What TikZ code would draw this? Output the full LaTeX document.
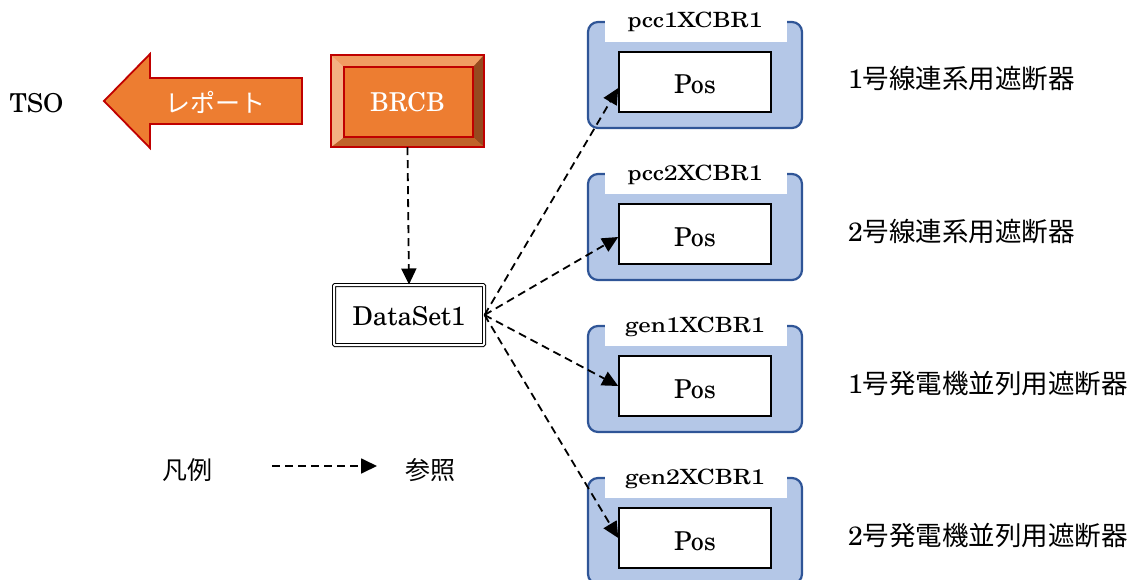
\documentclass[tikz,border=0pt]{standalone}
\usepackage{graphicx}
\usepackage{fontspec}
\setmainfont{texgyreschola-regular.otf}
\newfontfamily\cjk{Noto Sans CJK JP}
\usetikzlibrary{arrows.meta,calc}
\definecolor{orangeF}{HTML}{ED7D31}
\definecolor{darkred}{HTML}{C00000}
\definecolor{bevT}{HTML}{F19C62}
\definecolor{bevL}{HTML}{F4B183}
\definecolor{bevB}{HTML}{C0632A}
\definecolor{bevR}{HTML}{964A1F}
\definecolor{boxblue}{HTML}{B4C7E7}
\definecolor{edgeblue}{HTML}{2F5597}
\begin{document}
\begin{tikzpicture}[x=1pt,y=-1pt,
  lat/.style={font=\fontsize{26}{30}\selectfont, inner sep=0pt},
  labtxt/.style={font=\fontsize{21}{25}\selectfont, inner sep=0pt},
  jp/.style={font=\fontsize{25}{30}\selectfont\cjk, inner sep=0pt},
  desc/.style={font=\fontsize{26.5}{30}\selectfont, inner sep=0pt, anchor=base west},
  ref/.style={draw=black, line width=1.8pt, dash pattern=on 8pt off 5pt,
    -{Triangle[length=16pt,width=15pt]}},
  container/.style={draw=edgeblue, fill=boxblue, line width=2.2pt,
    rounded corners=10pt, minimum width=214pt, minimum height=106pt, inner sep=0pt},
  labbg/.style={fill=white, draw=none, minimum width=182pt, minimum height=30pt, inner sep=0pt},
  posbox/.style={draw=black, fill=white, line width=1.5pt, minimum width=152pt,
    minimum height=60pt, inner sep=0pt, font=\fontsize{26}{30}\selectfont,
    text height=24pt, text depth=0pt},
  dsbox/.style={draw=black, double=white, double distance=2pt, line width=1pt,
    rounded corners=1pt, minimum width=150pt, minimum height=60pt, inner sep=0pt,
    font=\fontsize{26}{30}\selectfont, text height=20pt, text depth=0pt},
  brcbbox/.style={fill=orangeF, draw=none, minimum width=153pt, minimum height=92pt,
    inner sep=0pt, text=white, font=\fontsize{26}{30}\selectfont,
    text height=22pt, text depth=0pt}
]
\useasboundingbox (0,0) rectangle (1134,580);

% TSO
\node[lat, anchor=base] (tso) at (36.5,113) {TSO};

% report arrow
\draw[fill=orangeF, draw=darkred, line width=1.8pt, line join=miter]
  (104,101) -- (150,54) -- (150,78) -- (302,78) -- (302,124) -- (150,124) -- (150,148) -- cycle;
\node[jp, text=white] (rep) at (215,102) {レポート};

% BRCB bevel box
\node[brcbbox] (brcb) at (407.5,101) {BRCB};
\coordinate (inw) at ($(brcb.north west)+(13,12)$);
\coordinate (ine) at ($(brcb.north east)+(-11,12)$);
\coordinate (ise) at ($(brcb.south east)+(-11,-10)$);
\coordinate (isw) at ($(brcb.south west)+(13,-10)$);
\fill[bevT] (brcb.north west) -- (brcb.north east) -- (ine) -- (inw) -- cycle;
\fill[bevR] (brcb.north east) -- (brcb.south east) -- (ise) -- (ine) -- cycle;
\fill[bevB] (brcb.south east) -- (brcb.south west) -- (isw) -- (ise) -- cycle;
\fill[bevL] (brcb.south west) -- (brcb.north west) -- (inw) -- (isw) -- cycle;
\draw[darkred, line width=2pt] (brcb.north west) rectangle (brcb.south east);
\draw[darkred, line width=2pt] (inw) rectangle (ise);

% DataSet1
\node[dsbox] (ds) at (409,315) {DataSet1};

% containers
\foreach \k/\lab in {0/pcc1XCBR1,1/pcc2XCBR1,2/gen1XCBR1,3/gen2XCBR1}{
  \pgfmathsetmacro\t{22+152*\k}
  \node[container] (c\k) at (695,\t+53) {};
  \node[labbg] (lb\k) at (696,\t+5) {};
  \node[labtxt, anchor=base] (lt\k) at (695,\t+6) {\scalebox{1.19}[1]{\lab}};
  \node[posbox] (p\k) at (695,\t+60) {Pos};
}

% descriptions
\node[desc] (d0) at (848,89) {1\cjk 号線連系用遮断器};
\node[desc] (d1) at (848,241) {2\cjk 号線連系用遮断器};
\node[desc] (d2) at (848,393) {1\cjk 号発電機並列用遮断器};
\node[desc] (d3) at (848,545) {2\cjk 号発電機並列用遮断器};

% connectors
\draw[ref] (brcb.south) -- (ds.north);
\draw[ref] (ds.east) -- ([yshift=-6pt]p0.west);
\draw[ref] (ds.east) -- ([yshift=-3pt]p1.west);
\draw[ref] (ds.east) -- (p2.west);
\draw[ref] (ds.east) -- (p3.west);

% legend
\node[jp] (leg) at (187,470) {凡例};
\coordinate (la) at (272,466);
\coordinate (lz) at (377,466);
\draw[ref] (la) -- (lz);
\node[jp] (refl) at (430,470) {参照};
\end{tikzpicture}
\end{document}
